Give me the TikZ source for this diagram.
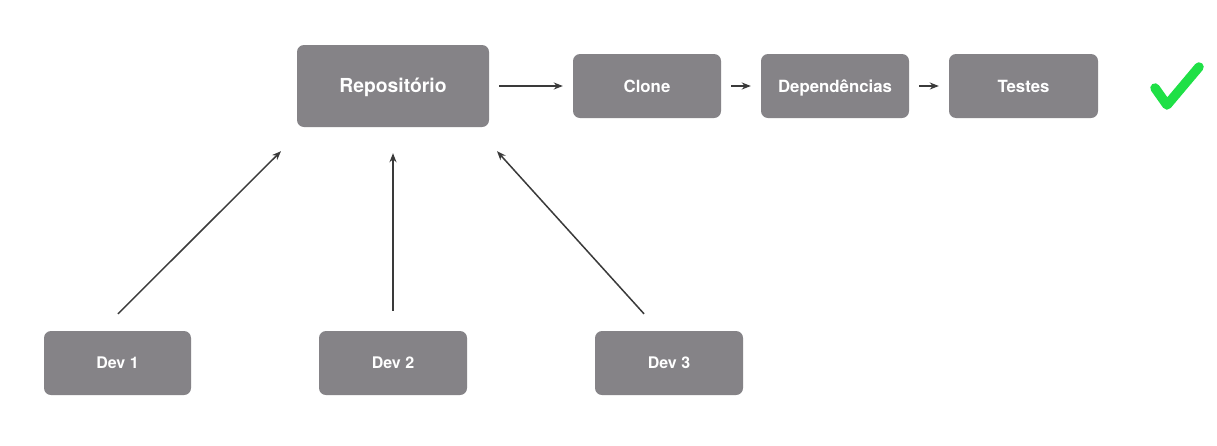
\documentclass[tikz,border=0pt]{standalone}
\usepackage{fontspec}
\setmainfont{TeX Gyre Heros}
\usetikzlibrary{arrows.meta}
\definecolor{boxgray}{HTML}{858387}
\definecolor{linegray}{HTML}{3A3A3A}
\definecolor{checkgreen}{HTML}{1FE046}
\tikzset{
  stepbox/.style={rectangle, rounded corners=7pt, fill=boxgray, text=white, font=\bfseries\fontsize{16.8}{19}\selectfont, inner sep=0pt, text height=12.1pt, text depth=0pt},
  devbox/.style={stepbox, font=\bfseries\fontsize{16}{19}\selectfont, text height=11.5pt},
  repobox/.style={stepbox, font=\bfseries\fontsize{19.3}{22}\selectfont, text height=13.9pt},
  conn/.style={draw=linegray, line width=1.5pt, -{Stealth[length=9pt,width=7pt]}}
}
\begin{document}
\begin{tikzpicture}[x=1pt,y=-1pt]
\fill[white] (0,0) rectangle (1217,445);
\useasboundingbox (0,0) rectangle (1217,445);
\node[repobox, minimum width=192pt, minimum height=82pt] (repo) at (393,86) {Repositório};
\node[stepbox, minimum width=148pt, minimum height=64pt] (clone) at (647,86) {Clone};
\node[stepbox, minimum width=148pt, minimum height=64pt] (dep) at (835,86) {Dependências};
\node[stepbox, minimum width=149pt, minimum height=64pt] (test) at (1023.5,86) {Testes};
\node[devbox, minimum width=147pt, minimum height=64pt] (dev1) at (117.5,363) {Dev 1};
\node[devbox, minimum width=148pt, minimum height=64pt] (dev2) at (393,363) {Dev 2};
\node[devbox, minimum width=148pt, minimum height=64pt] (dev3) at (669,363) {Dev 3};
\coordinate (chkA) at (1155,88);
\coordinate (chkB) at (1167,105);
\coordinate (chkC) at (1199,67);
\draw[checkgreen, line width=9.5pt, line cap=round, line join=round] (chkA) -- (chkB) -- (chkC);
\draw[conn] ([xshift=10pt]repo.east) -- ([xshift=-10pt]clone.west);
\draw[conn] ([xshift=10pt]clone.east) -- ([xshift=-10pt]dep.west);
\draw[conn] ([xshift=10pt]dep.east) -- ([xshift=-10pt]test.west);
\draw[conn] ([shift={(0.5pt,17pt)}]dev1.north) -- ([shift={(-112pt,-24pt)}]repo.south);
\draw[conn] ([yshift=20pt]dev2.north) -- ([yshift=-26pt]repo.south);
\draw[conn] ([shift={(-25pt,17pt)}]dev3.north) -- ([shift={(104pt,-24pt)}]repo.south);
\end{tikzpicture}
\end{document}
